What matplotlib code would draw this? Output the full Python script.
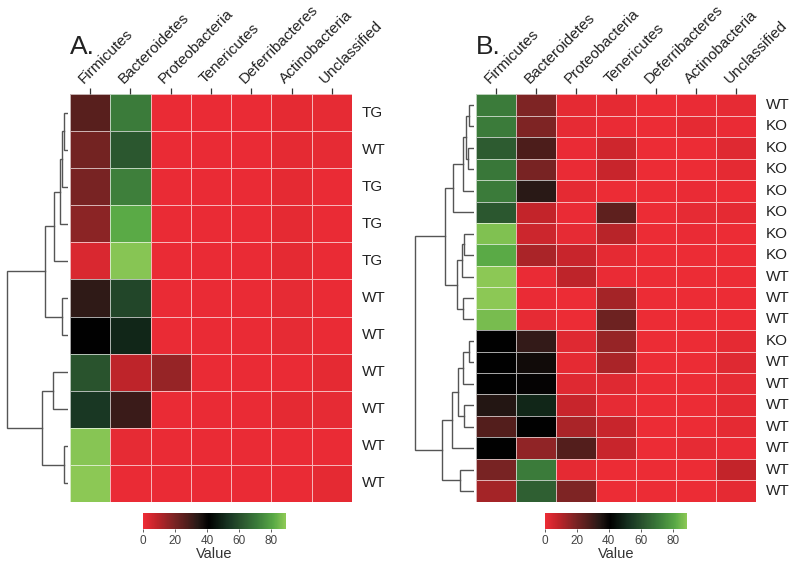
import matplotlib
matplotlib.use('Agg')
import matplotlib.pyplot as plt
import matplotlib.transforms as mtransforms
from matplotlib.colors import LinearSegmentedColormap
import numpy as np

plt.rcParams['font.family'] = ['Liberation Sans', 'DejaVu Sans']

phyla = ['Firmicutes', 'Bacteroidetes', 'Proteobacteria', 'Tenericutes',
         'Deferribacteres', 'Actinobacteria', 'Unclassified']

# panel A
rows_a = ['TG', 'WT', 'TG', 'TG', 'TG', 'WT', 'WT', 'WT', 'WT', 'WT', 'WT']
vals_a = [
    [26, 71, 1, 1, 1, 2, 1.5],
    [21, 62, 1, 1, 1, 2, 1.5],
    [20, 72, 1, 1, 1, 2, 1],
    [17, 82, 1, 1, 1, 2, 1],
    [4, 88, 1, 1, 1, 2, 1],
    [33, 58, 1, 1, 1, 1.5, 1],
    [41, 50, 1, 1, 1, 1.5, 1],
    [61, 9, 15, 1, 1, 1, 2],
    [54, 31, 1, 1, 1, 2, 1.5],
    [88, 1.5, 1, 1, 1, 1, 1],
    [89, 1, 1, 1, 1, 1, 2],
]
# merges (left, right, height); leaves numbered in display order
tree_a = [(0, 1, 5.7), (11, 2, 8.5), (12, 3, 10), (13, 4, 15.7), (5, 6, 8.3),
          (14, 15, 25), (7, 8, 17.3), (9, 10, 6), (17, 18, 28.3), (16, 19, 62.7)]

# panel B
rows_b = ['WT', 'KO', 'KO', 'KO', 'KO', 'KO', 'KO', 'KO', 'WT', 'WT', 'WT',
          'KO', 'WT', 'WT', 'WT', 'WT', 'WT', 'WT', 'WT']
vals_b = [
    [71, 19, 2, 2, 0.5, 1, 1.5],
    [71, 19, 1.5, 1, 0.5, 2, 1],
    [63, 28, 1, 6, 0.5, 0.5, 3],
    [70, 20, 1, 7, 0.5, 0.5, 2],
    [71, 34, 2, 0.5, 0.5, 1, 0.5],
    [62, 8, 1, 25, 0.5, 1.5, 2],
    [87, 6.5, 1.5, 10, 0.5, 1, 0.5],
    [82, 12, 7, 2, 0.5, 0.5, 0.5],
    [89, 1, 9, 1, 0.5, 0.5, 0.5],
    [89, 1, 0.5, 13, 0.5, 0.5, 0.5],
    [86, 1.5, 0.5, 22, 0.5, 0.5, 0.5],
    [41, 32, 3, 15, 0.5, 0.5, 2],
    [41, 38, 2, 12, 0.5, 0.5, 3],
    [41, 40, 3, 3, 0.5, 0.5, 1.5],
    [35, 50, 7, 1.5, 0.5, 0.5, 2],
    [27, 41, 12, 7, 0.5, 0.5, 2],
    [41, 16, 27, 7, 0.5, 1.5, 1],
    [20, 71, 2, 0.5, 0.5, 0.5, 8],
    [13, 64, 19, 0.5, 0.5, 0.5, 2],
]
tree_b = [(0, 1, 7), (2, 3, 7.7), (19, 20, 10), (21, 4, 12.7), (22, 5, 22.7),
          (6, 7, 11.7), (24, 8, 14.3), (9, 10, 12.7), (25, 26, 19.3), (23, 27, 31),
          (11, 12, 7), (29, 13, 12.7), (14, 15, 11.7), (30, 31, 18.3), (32, 16, 24.3),
          (17, 18, 16), (33, 34, 34.3), (28, 35, 61)]

vmin, vmax = 0, 89
# colour stops (value, rgb)
cmap_stops = [(0, (238, 44, 54)), (8, (195, 36, 42)), (19, (125, 36, 36)),
              (27, (82, 30, 28)), (34, (40, 25, 22)), (41, (0, 0, 0)),
              (54, (25, 55, 35)), (63, (45, 90, 48)), (71, (58, 122, 58)),
              (82, (90, 170, 70)), (89, (140, 200, 85))]
cmap = LinearSegmentedColormap.from_list(
    'rkg', [(v / vmax, tuple(c / 255 for c in rgb)) for v, rgb in cmap_stops])

W, H = 800, 567
fig = plt.figure(figsize=(8, 5.67), dpi=100)


def px_axes(x0, y0, x1, y1):
    return fig.add_axes([x0/W, 1 - y1/H, (x1 - x0)/W, (y1 - y0)/H])


def draw_tree(ax, merges, n):
    pos = {i: i + 0.5 for i in range(n)}
    hgt = {i: 0.0 for i in range(n)}
    for k, (a, b, h) in enumerate(merges):
        ax.plot([hgt[a], h, h, hgt[b]], [pos[a], pos[a], pos[b], pos[b]],
                color='#555555', lw=1.0, solid_joinstyle='miter')
        pos[n + k] = (pos[a] + pos[b]) / 2
        hgt[n + k] = h


def panel(hx0, hx1, dx0, rows, vals, tree, letter, cbx0):
    top, bot = 94.3, 501.7
    n = len(rows)
    ax = px_axes(hx0, top, hx1, bot)
    data = np.array(vals)
    mesh = ax.pcolormesh(data, cmap=cmap, vmin=vmin, vmax=vmax,
                         edgecolors=(1, 1, 1, 0.65), linewidth=0.6)
    ax.set_xlim(0, len(phyla))
    ax.set_ylim(n, 0)
    for s in ax.spines.values():
        s.set_visible(False)
    ax.set_yticks([])
    ax.set_xticks(np.arange(len(phyla)) + 0.5)
    ax.tick_params(axis='x', top=True, bottom=False, labeltop=False,
                   labelbottom=False, length=4, width=0.9, direction='out',
                   color='#333333')
    off = mtransforms.ScaledTranslation(-6.5/100, 10/100, fig.dpi_scale_trans)
    for j, name in enumerate(phyla):
        ax.text(j + 0.5, 0, name, rotation=45, ha='left', va='baseline',
                rotation_mode='anchor', fontsize=11, color='#222222',
                transform=ax.transData + off)
    for i, lab in enumerate(rows):
        ax.text(len(phyla) + 0.24, i + 0.5, lab, ha='left', va='center',
                fontsize=11, color='#222222')

    dax = px_axes(dx0, top, hx0 - 2, bot)
    draw_tree(dax, tree, n)
    dax.set_xlim(hx0 - dx0, 2)
    dax.set_ylim(n, 0)
    dax.axis('off')

    fig.text(hx0 / W, 1 - 54.5 / H, letter, fontsize=19, color='#222222',
             ha='left', va='baseline')

    cax = px_axes(cbx0, 513, cbx0 + 142.5, 529)
    cb = fig.colorbar(mesh, cax=cax, orientation='horizontal',
                      ticks=[0, 20, 40, 60, 80])
    cb.outline.set_visible(False)
    cax.tick_params(labelsize=8.5, length=2.5, width=0.6, colors='#444444',
                    pad=1.5)
    cb.set_label('Value', fontsize=10.5, color='#333333', labelpad=0)


panel(70, 352, 0, rows_a, vals_a, tree_a, 'A.', 143)
panel(476, 756, 400, rows_b, vals_b, tree_b, 'B.', 544.5)

fig.savefig('out.png', dpi=100)
